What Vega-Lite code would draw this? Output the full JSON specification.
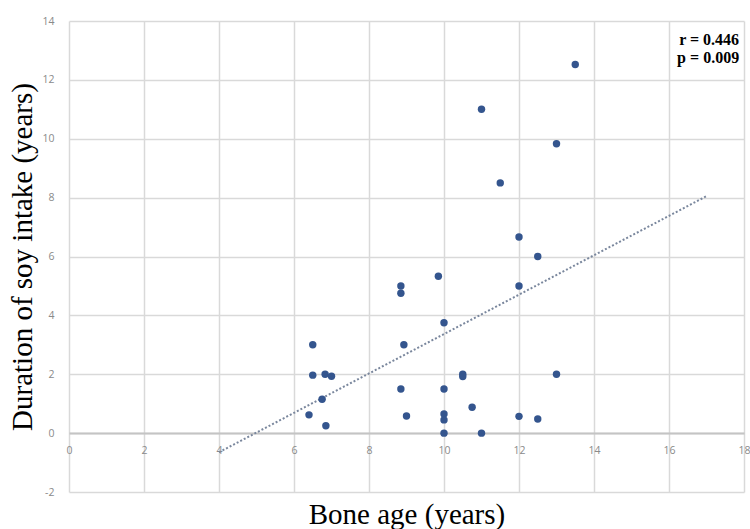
{
  "$schema": "https://vega.github.io/schema/vega-lite/v6.json",
  "width": 675,
  "height": 471,
  "autosize": {"type": "none"},
  "padding": {"left": 69, "top": 21, "right": 6, "bottom": 37},
  "background": "white",
  "config": {"view": {"stroke": null}},
  "datasets": {
    "pts": [
      {"bone_age": 12.5, "soy": 6.0},
      {"bone_age": 9.85, "soy": 5.33},
      {"bone_age": 8.85, "soy": 5.0},
      {"bone_age": 8.85, "soy": 4.75},
      {"bone_age": 12.0, "soy": 5.0},
      {"bone_age": 10.0, "soy": 3.75},
      {"bone_age": 6.5, "soy": 3.0},
      {"bone_age": 8.93, "soy": 3.0},
      {"bone_age": 6.5, "soy": 1.97},
      {"bone_age": 6.83, "soy": 2.0},
      {"bone_age": 7.0, "soy": 1.93},
      {"bone_age": 10.5, "soy": 2.0},
      {"bone_age": 10.5, "soy": 1.92},
      {"bone_age": 13.0, "soy": 2.0},
      {"bone_age": 8.85, "soy": 1.5},
      {"bone_age": 10.0, "soy": 1.5},
      {"bone_age": 6.75, "soy": 1.15},
      {"bone_age": 10.75, "soy": 0.88},
      {"bone_age": 6.4, "soy": 0.62},
      {"bone_age": 9.0, "soy": 0.58},
      {"bone_age": 10.0, "soy": 0.65},
      {"bone_age": 10.0, "soy": 0.45},
      {"bone_age": 12.0, "soy": 0.57},
      {"bone_age": 12.5, "soy": 0.48},
      {"bone_age": 6.85, "soy": 0.25},
      {"bone_age": 10.0, "soy": 0.0},
      {"bone_age": 11.0, "soy": 0.0},
      {"bone_age": 13.5, "soy": 12.52},
      {"bone_age": 11.0, "soy": 11.0},
      {"bone_age": 13.0, "soy": 9.83},
      {"bone_age": 11.5, "soy": 8.5},
      {"bone_age": 12.0, "soy": 6.66}
    ],
    "trend": [
      {"bone_age": 4.0, "soy": -0.65},
      {"bone_age": 17.0, "soy": 8.05}
    ],
    "note": [
      {"label": "r = 0.446\np = 0.009"}
    ]
  },
  "layer": [
    {
      "data": {"name": "trend"},
      "mark": {"type": "line", "color": "#7a879d", "strokeWidth": 2, "strokeDash": [2, 2]},
      "encoding": {
        "x": {
          "field": "bone_age", "type": "quantitative",
          "scale": {"domain": [0, 18], "nice": false, "zero": false},
          "axis": {
            "title": "Bone age (years)",
            "values": [0, 2, 4, 6, 8, 10, 12, 14, 16, 18],
            "labelExpr": "toString(datum.value)",
            "offset": -59,
            "grid": true, "gridColor": "#d9d9d9", "gridWidth": 1.5,
            "domain": true, "domainColor": "#c4c4c4", "domainWidth": 2,
            "ticks": false,
            "labelFont": "Open Sans", "labelFontSize": 10.5, "labelColor": "#8a8a8a",
            "labelPadding": 12, "labelFlush": false,
            "titleFont": "Liberation Serif", "titleFontSize": 29, "titleFontWeight": "normal",
            "titleColor": "#000000", "titleY": 90, "titleBaseline": "alphabetic"
          }
        },
        "y": {
          "field": "soy", "type": "quantitative",
          "scale": {"domain": [-2, 14], "nice": false, "zero": false},
          "axis": {
            "title": "Duration of soy intake (years)",
            "values": [-2, 0, 2, 4, 6, 8, 10, 12, 14],
            "labelExpr": "toString(datum.value)",
            "grid": true, "gridColor": "#d9d9d9", "gridWidth": 1.5,
            "domain": false, "ticks": false,
            "labelFont": "Open Sans", "labelFontSize": 10.5, "labelColor": "#8a8a8a",
            "labelPadding": 15, "labelFlush": false,
            "titleFont": "Liberation Serif", "titleFontSize": 29, "titleFontWeight": "normal",
            "titleColor": "#000000", "titleX": -38, "titleBaseline": "alphabetic"
          }
        }
      }
    },
    {
      "data": {"name": "pts"},
      "mark": {"type": "circle", "size": 55, "color": "#34558e", "opacity": 1},
      "encoding": {
        "x": {"field": "bone_age", "type": "quantitative"},
        "y": {"field": "soy", "type": "quantitative"}
      }
    },
    {
      "data": {"name": "note"},
      "mark": {"type": "text", "font": "Liberation Serif", "fontWeight": "bold", "fontSize": 16, "align": "right", "baseline": "alphabetic", "lineBreak": "\n", "lineHeight": 18, "color": "#000000"},
      "encoding": {
        "x": {"datum": 17.87},
        "y": {"datum": 13.18},
        "text": {"field": "label"}
      }
    }
  ]
}
